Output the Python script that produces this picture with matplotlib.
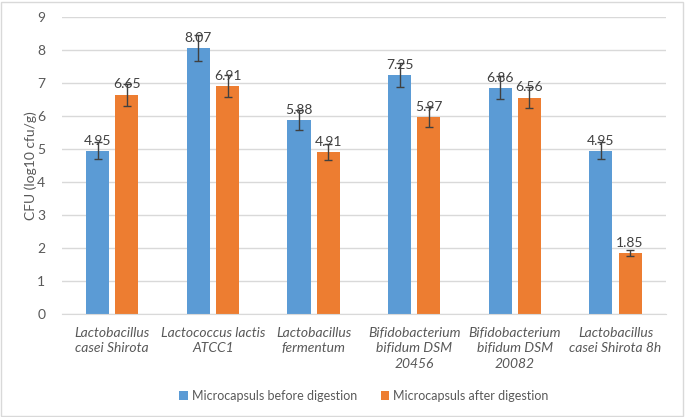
import numpy as np
import matplotlib.pyplot as plt
from matplotlib.patches import Rectangle

# Data
strains = ["Lactobacillus\ncasei Shirota", "Lactococcus lactis\nATCC1",
           "Lactobacillus\nfermentum", "Bifidobacterium\nbifidum DSM\n20456",
           "Bifidobacterium\nbifidum DSM\n20082", "Lactobacillus\ncasei Shirota 8h"]
before = [4.95, 8.07, 5.88, 7.25, 6.86, 4.95]
after = [6.65, 6.91, 4.91, 5.97, 6.56, 1.85]
before_err = [0.25, 0.40, 0.30, 0.36, 0.34, 0.25]
after_err = [0.33, 0.33, 0.24, 0.30, 0.33, 0.09]

blue = "#5B9BD5"
orange = "#ED7D31"
txt = "#595959"

plt.rcParams['font.family'] = ['Lato', 'DejaVu Sans']

fig = plt.figure(figsize=(6.85, 4.17), dpi=100)
ax = fig.add_axes([0.0905, 0.247, 0.8815, 0.712])

x = np.arange(len(strains))
w = 0.23
off = 0.145
ax.bar(x - off, before, w, color=blue, label="Microcapsuls before digestion", zorder=2)
ax.bar(x + off, after, w, color=orange, label="Microcapsuls after digestion", zorder=2)
ek = dict(fmt='none', ecolor='#404040', elinewidth=1, capsize=3, capthick=1, zorder=3)
ax.errorbar(x - off, before, yerr=before_err, **ek)
ax.errorbar(x + off, after, yerr=after_err, **ek)

# value labels above each bar
for xs, vals in ((x - off, before), (x + off, after)):
    for xi, v in zip(xs, vals):
        ax.annotate(f"{v:.2f}", (xi, v), xytext=(0, 3), textcoords='offset points',
                    ha='center', va='bottom', fontsize=10, color='#404040', zorder=4)

ax.set_xlim(-0.5, len(strains) - 0.5)
ax.set_ylim(0, 9)
ax.set_yticks(range(0, 10))
ax.grid(axis='y', color='#D9D9D9', linewidth=1, zorder=0)
ax.set_axisbelow(True)
for s in ('top', 'right', 'left'):
    ax.spines[s].set_visible(False)
ax.spines['bottom'].set_color('#D9D9D9')
ax.tick_params(axis='both', length=0, colors=txt, labelsize=10)
ax.tick_params(axis='y', pad=12)
ax.set_xticks(x)
ax.set_xticklabels(strains, fontstyle='italic', linespacing=1.35)
ax.tick_params(axis='x', pad=9)
ax.set_ylabel("CFU (log10 cfu/g)", color=txt, fontsize=10)
ax.yaxis.set_label_coords(-0.042, 0.5)

ax.legend(loc='center', bbox_to_anchor=(0.5, -0.275), ncol=2, frameon=False,
          fontsize=9, labelcolor=txt, handlelength=0.7, handleheight=0.7,
          handletextpad=0.3, columnspacing=1.9)

fig.patches.append(Rectangle((0.002, 0.003), 0.995, 0.993, transform=fig.transFigure,
                             fill=False, edgecolor='#D9D9D9', linewidth=1))

fig.savefig("out.png", dpi=100)
